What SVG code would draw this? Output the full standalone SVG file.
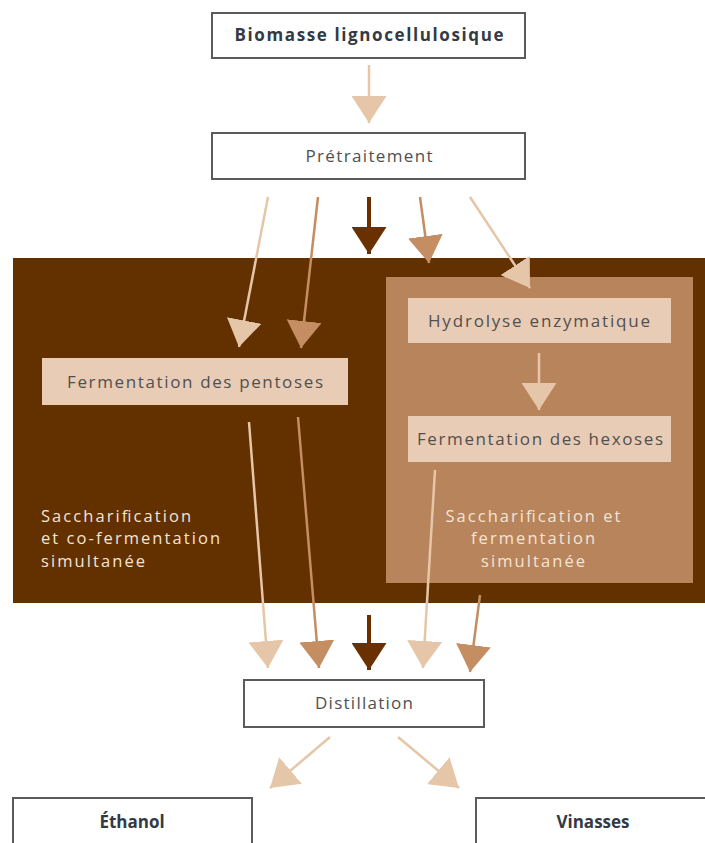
<svg xmlns="http://www.w3.org/2000/svg" width="705" height="843" viewBox="0 0 705 843">
<style>
.box{fill:#ffffff;stroke:#5b5b5b;stroke-width:2}
.ibox{fill:#e8ccb6}
.t{font-family:"Open Sans","Liberation Sans",sans-serif;font-size:17px;fill:#505050;text-anchor:middle}
.tb{font-family:"Open Sans","Liberation Sans",sans-serif;font-size:17px;font-weight:bold;fill:#333a44;text-anchor:middle}
.tw{font-family:"Open Sans","Liberation Sans",sans-serif;font-size:16.5px;fill:#f3e4d6}
.al{stroke:#e6c6a8;stroke-width:2.5;fill:none;marker-end:url(#hl)}
.am{stroke:#c48d62;stroke-width:2.5;fill:none;marker-end:url(#hm)}
.ad{stroke:#6a3000;stroke-width:4;fill:none;marker-end:url(#hd)}
</style>
<defs>
<marker id="hl" markerUnits="userSpaceOnUse" viewBox="0 0 27 35" refX="27" refY="17.5" markerWidth="27" markerHeight="35" orient="auto"><path d="M0,0 L27,17.5 L0,35 Z" fill="#e6c6a8"/></marker>
<marker id="hm" markerUnits="userSpaceOnUse" viewBox="0 0 27 35" refX="27" refY="17.5" markerWidth="27" markerHeight="35" orient="auto"><path d="M0,0 L27,17.5 L0,35 Z" fill="#c48d62"/></marker>
<marker id="hd" markerUnits="userSpaceOnUse" viewBox="0 0 27 35" refX="27" refY="17.5" markerWidth="27" markerHeight="35" orient="auto"><path d="M0,0 L27,17.5 L0,35 Z" fill="#6a3000"/></marker>
</defs>
<rect width="705" height="843" fill="#ffffff"/>
<g id="panel-ssc">
<rect x="13" y="258" width="700" height="345" fill="#633000"/>
<text class="tw" x="41" y="522" textLength="150" lengthAdjust="spacing">Saccharification</text>
<text class="tw" x="41" y="544" textLength="179" lengthAdjust="spacing">et co-fermentation</text>
<text class="tw" x="41" y="567" textLength="104" lengthAdjust="spacing">simultanée</text>
</g>
<g id="panel-ssf">
<rect x="386" y="277" width="307" height="306" fill="#b8845c"/>
<text class="tw" x="533" y="522" text-anchor="middle" textLength="175" lengthAdjust="spacing">Saccharification et</text>
<text class="tw" x="533" y="544" text-anchor="middle" textLength="124" lengthAdjust="spacing">fermentation</text>
<text class="tw" x="533" y="567" text-anchor="middle" textLength="104" lengthAdjust="spacing">simultanée</text>
</g>
<g id="biomasse">
<rect class="box" x="212" y="13" width="313" height="45"/>
<text class="tb" x="369" y="41" textLength="269" lengthAdjust="spacing">Biomasse lignocellulosique</text>
</g>
<g id="pretraitement">
<rect class="box" x="212" y="133" width="313" height="46"/>
<text class="t" x="369" y="162" textLength="127" lengthAdjust="spacing">Prétraitement</text>
</g>
<g id="pentoses">
<rect class="ibox" x="42" y="358" width="306" height="47"/>
<text class="t" x="195" y="388" textLength="256" lengthAdjust="spacing">Fermentation des pentoses</text>
</g>
<g id="hydrolyse">
<rect class="ibox" x="408" y="298" width="263" height="45"/>
<text class="t" x="539" y="327" textLength="222" lengthAdjust="spacing">Hydrolyse enzymatique</text>
</g>
<g id="hexoses">
<rect class="ibox" x="408" y="416" width="263" height="46"/>
<text class="t" x="540" y="445" textLength="246" lengthAdjust="spacing">Fermentation des hexoses</text>
</g>
<g id="distillation">
<rect class="box" x="244" y="680" width="240" height="47"/>
<text class="t" x="364" y="709" textLength="98" lengthAdjust="spacing">Distillation</text>
</g>
<g id="ethanol">
<rect class="box" x="13" y="798" width="239" height="60"/>
<text class="tb" x="132" y="828">Éthanol</text>
</g>
<g id="vinasses">
<rect class="box" x="476" y="798" width="240" height="60"/>
<text class="tb" x="593" y="828">Vinasses</text>
</g>
<g id="connectors">
<line class="al" x1="369" y1="65" x2="369" y2="123"/>
<line class="al" x1="268" y1="197" x2="239" y2="347"/>
<line class="am" x1="318" y1="197" x2="301" y2="348"/>
<line class="ad" x1="369" y1="197" x2="369" y2="254"/>
<line class="am" x1="420" y1="197" x2="429" y2="263"/>
<line class="al" x1="470" y1="197" x2="530" y2="288"/>
<line class="al" x1="539" y1="353" x2="539" y2="410"/>
<line class="al" x1="249" y1="422" x2="268" y2="668"/>
<line class="am" x1="298" y1="417" x2="319" y2="668"/>
<line class="ad" x1="369" y1="615" x2="369" y2="670"/>
<line class="al" x1="435" y1="470" x2="423" y2="668"/>
<line class="am" x1="480" y1="595" x2="470" y2="672"/>
<line class="al" x1="330" y1="737" x2="270" y2="788"/>
<line class="al" x1="398" y1="737" x2="459" y2="788"/>
</g>
</svg>
